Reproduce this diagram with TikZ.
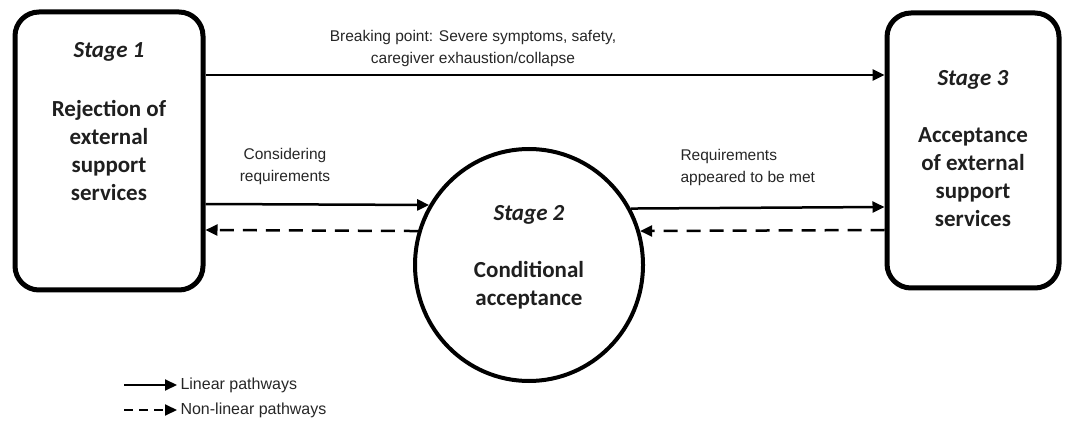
\documentclass[tikz,border=0pt]{standalone}
\usepackage{fontspec}
\setmainfont{Carlito}
\newfontfamily\lblfont{Liberation Sans}
\usetikzlibrary{arrows.meta,shapes.geometric}
\tikzset{
  box/.style={draw,line width=5pt,rounded corners=24pt},
  oval/.style={draw,ellipse,line width=4pt},
  stagetext/.style={align=center,text=black!88,font=\bfseries\fontsize{23}{28}\selectfont},
  lbl/.style={align=center,text=black!85,font=\lblfont\fontsize{15.5}{22}\selectfont},
  lin/.style={->,line width=2.5pt},
  nonlin/.style={->,line width=2.5pt,dash pattern=on 14pt off 9pt},
}
\begin{document}
\begin{tikzpicture}[x=1pt,y=-1pt,>={Triangle[length=12pt,width=11pt]}]
\useasboundingbox (0,0) rectangle (1067,427);
\node[box,minimum width=188pt,minimum height=278pt] (s1) at (109,151) {};
\node[box,minimum width=172pt,minimum height=275pt] (s3) at (973,150.5) {};
\node[oval,minimum width=228pt,minimum height=232pt] (s2) at (529,265) {};
\node[stagetext,anchor=north] (t1) at (109,39) {\textit{Stage 1}\\[31pt]Rejection of\\external\\support\\services};
\node[stagetext,anchor=north] (t3) at (973,67) {\textit{Stage 3}\\[29pt]Acceptance\\of external\\support\\services};
\node[stagetext,anchor=north] (t2) at (529,202) {\textit{Stage 2}\\[29pt]Conditional\\acceptance};
% pathways
\draw[lin] (s1.east|-0,75) -- (s3.west|-0,75);
\node[lbl] (b) at (473,48) {Breaking point: Severe symptoms, safety,\\caregiver exhaustion/collapse};
\draw[lin] (s1.east|-0,204) -- (s2.149);
\draw[nonlin] (s2.163) -- (s1.east|-0,230);
\node[lbl] (c) at (285,166) {Considering\\requirements};
\draw[lin] (s2.29) -- (s3.west|-0,207);
\draw[nonlin] (s3.west|-0,230) -- (s2.17);
\node[lbl,align=left,anchor=west] (r) at (677,167) {Requirements\\appeared to be met};
% legend
\coordinate (la) at (124,385); \coordinate (lb) at (177,385);
\coordinate (ma) at (124,410); \coordinate (mb) at (177,410);
\draw[lin,line width=2pt] (la) -- (lb);
\draw[nonlin,line width=2pt,dash pattern=on 9pt off 6pt] (ma) -- (mb);
\node[lbl,anchor=west,font=\lblfont\fontsize{16}{20}\selectfont] (ll) at (lb) {Linear pathways};
\node[lbl,anchor=west,font=\lblfont\fontsize{16}{20}\selectfont] (ml) at (mb) {Non-linear pathways};
\end{tikzpicture}
\end{document}
